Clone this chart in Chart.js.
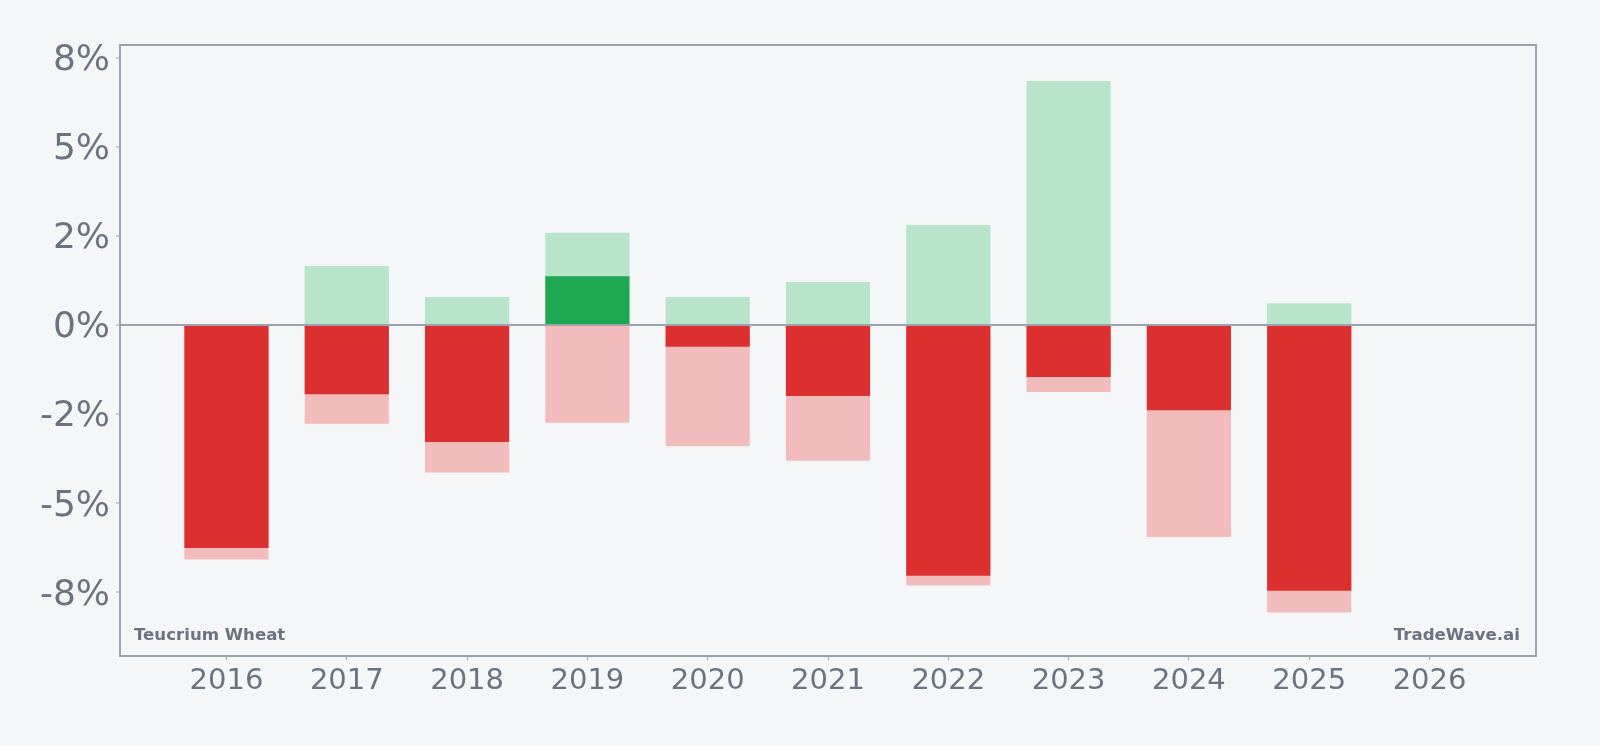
<!DOCTYPE html>
<html>
<head>
<meta charset="utf-8">
<script src="https://cdn.jsdelivr.net/npm/chart.js@4/dist/chart.umd.min.js"></script>
<style>
  html, body { margin: 0; padding: 0; background: #f5f6f8; }
  canvas { display: block; }
</style>
</head>
<body>
<canvas id="Chart" width="1600" height="746"></canvas>
<script>
// valores (% por año)
const years = [2016, 2017, 2018, 2019, 2020, 2021, 2022, 2023, 2024, 2025, 2026];
const maxGain = [null, 1.66, 0.79, 2.59, 0.79, 1.21, 2.81, 6.85, null, 0.61, null];
const maxLoss = [-6.58, -2.77, -4.14, -2.74, -3.40, -3.81, -7.31, -1.88, -5.95, -8.07, null];
const closeRet = [-6.26, -1.94, -3.28, 1.37, -0.61, -1.99, -7.04, -1.46, -2.39, -7.46, null];

const yTickValues = [-7.5, -5, -2.5, 0, 2.5, 5, 7.5];
const yTickLabels = ['-8%', '-5%', '-2%', '0%', '2%', '5%', '8%'];

const leftNote = 'Teucrium Wheat';
const rightNote = 'TradeWave.ai';

const textGray = '#6b7280';
const lineGray = '#9ca3af';

const toBars = (arr, test) => years.map((y, i) => {
  const v = arr[i];
  if (v === null || !test(v)) return { x: y, y: null };
  return { x: y, y: [0, v] };
});

const frame = {
  id: 'frame',
  afterDraw(chart) {
    const { ctx, chartArea: a } = chart;
    ctx.save();
    ctx.strokeStyle = lineGray;
    ctx.lineWidth = 2;
    ctx.strokeRect(a.left, a.top, a.right - a.left, a.bottom - a.top);
    ctx.fillStyle = textGray;
    ctx.font = 'bold 16.6px "DejaVu Sans"';
    ctx.textBaseline = 'alphabetic';
    ctx.textAlign = 'left';
    ctx.fillText(leftNote, a.left + 14, a.bottom - 16);
    ctx.textAlign = 'right';
    ctx.fillText(rightNote, a.right - 16, a.bottom - 16);
    ctx.restore();
  }
};

const ctx = document.getElementById('Chart');
new Chart(ctx, {
  type: 'bar',
  data: {
    datasets: [
      { label: 'Cierre +', data: toBars(closeRet, v => v > 0), backgroundColor: '#1fa852' },
      { label: 'Cierre -', data: toBars(closeRet, v => v < 0), backgroundColor: '#dc3030' },
      { label: 'Max subida', data: toBars(maxGain, v => v > 0), backgroundColor: '#b8e4c9' },
      { label: 'Max caida', data: toBars(maxLoss, v => v < 0), backgroundColor: '#f3bcbc' }
    ]
  },
  options: {
    responsive: false,
    animation: false,
    layout: { padding: { top: 45, right: 64, left: 0, bottom: 0 } },
    datasets: {
      bar: { grouped: false, categoryPercentage: 1, barPercentage: 0.7, borderWidth: 0 }
    },
    plugins: { legend: { display: false }, tooltip: { enabled: false } },
    scales: {
      x: {
        type: 'linear',
        min: 2015.115,
        max: 2026.885,
        offset: false,
        afterBuildTicks: s => { s.ticks = years.map(v => ({ value: v })); },
        afterFit: s => { s.height = 90; },
        border: { display: false },
        grid: { display: true, offset: false, drawOnChartArea: false, drawTicks: true, tickLength: 4, tickColor: lineGray },
        ticks: {
          color: textGray,
          font: { family: 'DejaVu Sans', size: 29 },
          padding: 4,
          maxRotation: 0,
          callback: v => String(v)
        }
      },
      y: {
        min: -9.29,
        max: 7.86,
        afterBuildTicks: s => { s.ticks = yTickValues.map(v => ({ value: v })); },
        afterFit: s => { s.width = 120; },
        border: { display: false },
        grid: {
          color: c => (c.tick && c.tick.value === 0 ? lineGray : 'rgba(0,0,0,0)'),
          lineWidth: 2,
          tickColor: lineGray,
          tickLength: 4,
          tickWidth: 1
        },
        ticks: {
          color: textGray,
          font: { family: 'DejaVu Sans', size: 36 },
          padding: 6,
          labelOffset: 3,
          callback: v => yTickLabels[yTickValues.indexOf(v)]
        }
      }
    }
  },
  plugins: [frame]
});
</script>
</body>
</html>
